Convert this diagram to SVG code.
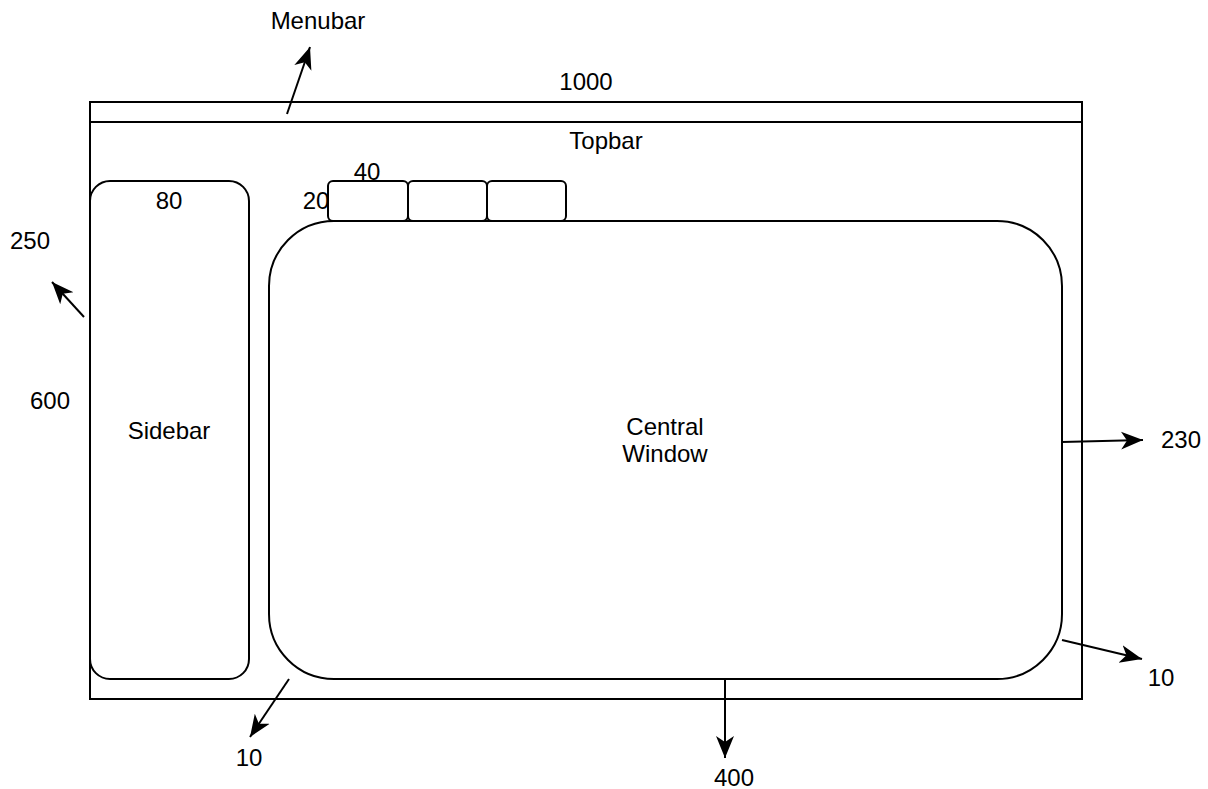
<svg xmlns="http://www.w3.org/2000/svg" width="1208" height="789" viewBox="0 0 1208 789">
<style>
.s{fill:#fff;stroke:#000;stroke-width:2}
.c{stroke:#000;stroke-width:2;fill:none}
text{font-family:"Liberation Sans",Arial,sans-serif;font-size:24px;fill:#000}
.m{text-anchor:middle}
</style>
<defs>
<marker id="a" markerUnits="userSpaceOnUse" markerWidth="24" markerHeight="20" refX="22" refY="10" orient="auto">
<path d="M0,1 L22,10 L0,19 L6,10 z" fill="#000"/>
</marker>
</defs>
<rect width="1208" height="789" fill="#fff"/>
<g id="window"><rect class="s" x="90" y="102" width="992" height="597"/></g>
<g id="menubar"><rect class="s" x="90" y="102" width="992" height="20"/></g>
<g id="topbar"><text class="m" x="606" y="149">Topbar</text></g>
<g id="sidebar"><rect class="s" x="90" y="181" width="159" height="498" rx="20"/><text class="m" x="169" y="439">Sidebar</text></g>
<g id="tab1"><rect class="s" x="328" y="181" width="80" height="40" rx="5"/></g>
<g id="tab2"><rect class="s" x="408" y="181" width="79" height="40" rx="5"/></g>
<g id="tab3"><rect class="s" x="487" y="181" width="79" height="40" rx="5"/></g>
<g id="central"><rect class="s" x="269" y="221" width="793" height="458" rx="65"/><text class="m" x="665" y="435">Central</text><text class="m" x="665" y="462">Window</text></g>
<g id="connectors">
<line class="c" x1="287" y1="114" x2="310" y2="47" marker-end="url(#a)"/>
<line class="c" x1="84" y1="317" x2="52" y2="282" marker-end="url(#a)"/>
<line class="c" x1="1062" y1="442" x2="1143" y2="440" marker-end="url(#a)"/>
<line class="c" x1="1062" y1="640" x2="1142" y2="659" marker-end="url(#a)"/>
<line class="c" x1="289" y1="679" x2="250" y2="737" marker-end="url(#a)"/>
<line class="c" x1="725" y1="679" x2="725" y2="758" marker-end="url(#a)"/>
</g>
<g id="labels">
<text class="m" x="318" y="29">Menubar</text>
<text class="m" x="586" y="90">1000</text>
<text class="m" x="30" y="249">250</text>
<text class="m" x="50" y="409">600</text>
<text class="m" x="169" y="209">80</text>
<text class="m" x="367" y="180">40</text>
<text class="m" x="316" y="209">20</text>
<text class="m" x="1181" y="448">230</text>
<text class="m" x="1161" y="686">10</text>
<text class="m" x="249" y="766">10</text>
<text class="m" x="734" y="786">400</text>
</g>
</svg>
